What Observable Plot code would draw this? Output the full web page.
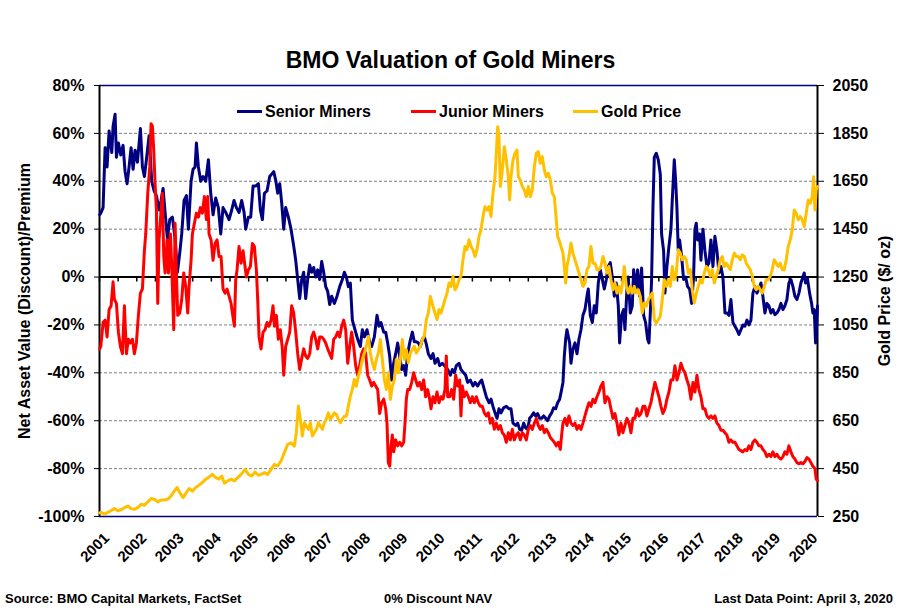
<!DOCTYPE html>
<html><head><meta charset="utf-8">
<script src="https://cdn.jsdelivr.net/npm/d3@7"></script>
<script src="https://cdn.jsdelivr.net/npm/@observablehq/plot@0.6"></script>
<style>
body{margin:0;background:#fff;font-family:"Liberation Sans",Arial,sans-serif;color:#000;}
#wrap{position:relative;width:901px;height:613px;overflow:hidden;background:#fff;}
#title{height:70px;box-sizing:border-box;padding-top:47px;text-align:center;font-weight:bold;font-size:23px;line-height:26px;}
#legend{position:absolute;top:103px;left:0;width:901px;height:20px;font-weight:bold;font-size:16px;}
.lg{position:absolute;top:0;line-height:18px;white-space:nowrap;}
.sw{display:inline-block;width:25px;height:3px;vertical-align:middle;margin-right:3px;position:relative;top:-1px;}
#footer{position:relative;height:39px;font-weight:bold;font-size:13px;}
#footer span{position:absolute;top:17px;white-space:nowrap;}
#chart svg{display:block;}
</style></head>
<body>
<div id="wrap">
  <div id="title">BMO Valuation of Gold Miners</div>
  <div id="chart"></div>
  <div id="footer">
    <span style="left:5px">Source: BMO Capital Markets, FactSet</span>
    <span style="left:438px;transform:translateX(-50%)">0% Discount NAV</span>
    <span style="right:8px">Last Data Point: April 3, 2020</span>
  </div>
  <div id="legend"></div>
</div>
<script>
// ---- data: [decimal year, value] ----
const seriesNames = ["Senior Miners", "Junior Miners", "Gold Price"];
const seriesColors = ["#000080", "#ff0000", "#ffc000"];

// Senior miners, premium/discount to NAV (%)
const senior = [
[2001.005,26],[2001.034,26.7],[2001.096,29],[2001.150,54],[2001.203,46],[2001.257,61],[2001.329,52],[2001.364,63],[2001.418,68],[2001.454,50],[2001.507,56],[2001.570,51],[2001.632,55],[2001.686,44],[2001.740,39],[2001.793,46],[2001.847,54],[2001.901,45],[2001.954,53],[2002.017,48],[2002.097,62],[2002.151,46],[2002.204,42],[2002.258,49],[2002.330,59],[2002.401,40],[2002.464,36],[2002.526,34],[2002.598,28],[2002.651,32],[2002.705,37],[2002.759,27],[2002.821,16],[2002.884,24],[2002.955,25],[2003.027,16],[2003.089,2],[2003.152,10],[2003.205,18],[2003.268,32],[2003.331,34],[2003.384,20],[2003.456,40],[2003.509,45],[2003.563,46],[2003.599,56],[2003.652,46],[2003.715,40],[2003.777,42],[2003.849,40],[2003.920,49],[2003.983,35],[2004.046,26],[2004.117,33],[2004.188,29],[2004.251,18],[2004.313,29],[2004.385,27],[2004.474,24],[2004.546,28],[2004.608,32],[2004.671,29],[2004.743,27],[2004.814,32],[2004.877,27],[2004.921,20],[2004.993,25],[2005.055,25],[2005.118,38],[2005.189,38],
[2005.261,39],[2005.314,28],[2005.368,24],[2005.422,35],[2005.493,36],[2005.565,42],[2005.618,43],[2005.672,44],[2005.725,40.5],[2005.779,35],[2005.833,39],[2005.886,31],[2005.940,20],[2005.993,29],[2006.065,25],[2006.137,20],[2006.208,13],[2006.262,7],[2006.315,-1],[2006.369,-9],[2006.423,-1],[2006.476,2],[2006.530,-9],[2006.583,-1],[2006.637,5],[2006.691,2],[2006.744,4],[2006.798,0],[2006.851,3],[2006.905,-1],[2006.959,6.5],[2007.012,2],[2007.066,-4],[2007.120,-6],[2007.173,-11.5],[2007.227,-8],[2007.298,-11],[2007.370,-8],[2007.441,-4],[2007.513,-1],[2007.567,2],[2007.620,0],[2007.674,-4],[2007.727,-2.5],[2007.781,-18],[2007.852,-22],[2007.924,-26],[2007.995,-29],[2008.049,-22],[2008.103,-25],[2008.174,-22],[2008.246,-27.5],[2008.299,-29],[2008.371,-25],[2008.442,-16],[2008.496,-20.5],[2008.550,-19],[2008.621,-23],[2008.675,-23],[2008.728,-27.5],[2008.782,-33],[2008.835,-43],[2008.889,-36],[2008.943,-32],[2008.996,-27.5],[2009.050,-33],[2009.104,-38.6],[2009.157,-37],[2009.211,-41],[2009.264,-32],[2009.318,-27.5],[2009.390,-23],[2009.443,-27],[2009.497,-27],[2009.551,-27.5],[2009.604,-29],[2009.658,-26],[2009.711,-25],[2009.765,-28],[2009.818,-32],[2009.890,-34],
[2009.944,-32],[2009.997,-36],[2010.069,-34],[2010.122,-37],[2010.194,-36],[2010.248,-37],[2010.337,-38.6],[2010.409,-41],[2010.462,-38.6],[2010.516,-40],[2010.569,-37],[2010.641,-36],[2010.694,-38.6],[2010.766,-40],[2010.820,-41],[2010.873,-44],[2010.945,-43],[2011.016,-45.5],[2011.070,-44],[2011.141,-45.5],[2011.195,-44],[2011.249,-43],[2011.320,-47],[2011.374,-50],[2011.445,-52.5],[2011.499,-51],[2011.552,-54],[2011.606,-56.7],[2011.660,-59],[2011.713,-55],[2011.767,-56.7],[2011.838,-54.6],[2011.910,-54],[2011.981,-55],[2012.035,-55],[2012.089,-61],[2012.160,-62],[2012.214,-61],[2012.267,-63.6],[2012.321,-64],[2012.375,-61],[2012.428,-63],[2012.482,-63.6],[2012.535,-59],[2012.589,-58],[2012.643,-56.7],[2012.696,-58],[2012.750,-57],[2012.804,-59],[2012.857,-59],[2012.911,-58],[2012.964,-59],[2013.018,-60],[2013.072,-58],[2013.125,-56.7],[2013.179,-54.6],[2013.233,-55],[2013.286,-52.5],[2013.340,-51],[2013.393,-47],[2013.429,-44],[2013.465,-33],[2013.501,-26],[2013.536,-22],[2013.572,-24.7],[2013.608,-27.5],[2013.644,-36],[2013.697,-30],[2013.751,-27.5],[2013.805,-32],[2013.858,-26],[2013.912,-22],[2013.965,-16],[2014.019,-13.6],[2014.073,-8],[2014.108,-5],[2014.162,-16],[2014.216,-19],[2014.269,-12],[2014.323,-15],[2014.376,-2.5],[2014.430,3],[2014.484,-1],[2014.537,-5],[2014.591,-1],[2014.645,4.4],[2014.698,6],
[2014.761,-1],[2014.805,-8],[2014.859,-2.5],[2014.913,-12],[2014.948,-27.5],[2015.002,-16],[2015.056,-13.6],[2015.091,-22],[2015.145,-5],[2015.181,0],[2015.234,-15],[2015.288,-12],[2015.324,3],[2015.377,-5],[2015.431,3],[2015.485,-8],[2015.538,3.75],[2015.592,-16],[2015.645,-19],[2015.699,-26],[2015.735,-27.5],[2015.771,-15],[2015.806,-1],[2015.842,29],[2015.878,50],[2015.931,51.7],[2015.985,49],[2016.039,43],[2016.074,18],[2016.128,11],[2016.164,-6.7],[2016.217,4.4],[2016.271,12.8],[2016.325,20],[2016.360,32],[2016.414,49],[2016.450,40.5],[2016.485,29],[2016.521,11],[2016.557,15.5],[2016.611,8.6],[2016.664,-1],[2016.718,0],[2016.772,-4],[2016.825,-5],[2016.879,-11],[2016.932,0],[2016.968,20],[2017.004,22.5],[2017.040,15.5],[2017.093,18],[2017.129,7],[2017.183,20],[2017.236,11],[2017.290,4.4],[2017.344,6],[2017.397,15.5],[2017.451,4.4],[2017.504,17],[2017.558,11],[2017.612,1.7],[2017.665,4.4],[2017.719,0],[2017.773,-15],[2017.826,-15],[2017.880,-16],[2017.933,-9.4],[2017.987,-19],[2018.041,-20.5],[2018.094,-22],[2018.148,-24],[2018.201,-22],[2018.255,-20],[2018.309,-20.5],[2018.362,-18],[2018.416,-20],[2018.470,-18],[2018.523,-6.7],[2018.577,-4],[2018.630,-6.7],[2018.684,-5],[2018.738,-2.5],[2018.791,-8],[2018.845,-15],[2018.898,-11],[2018.952,-12],[2019.006,-15],[2019.059,-13.6],[2019.113,-15.7],[2019.167,-15],[2019.220,-13.6],[2019.274,-11],[2019.328,-13.6],[2019.381,-12],[2019.435,-9.4],[2019.488,-2.5],[2019.542,-1],[2019.596,-4],[2019.649,-8],[2019.703,-9.4],[2019.757,-6.7],[2019.810,-2.5],[2019.864,0],[2019.899,1.7],[2019.935,-2.5],[2019.989,-1],[2020.043,-6.7],[2020.096,-11],[2020.132,-15],[2020.168,-13.6],[2020.203,-27.5],[2020.239,-18],[2020.255,-12]
];

// Junior miners, premium/discount to NAV (%)
const junior = [
[2001.005,-30],[2001.034,-29],[2001.096,-19],[2001.150,-18],[2001.203,-25],[2001.257,-13.6],[2001.311,-12],[2001.364,-2],[2001.400,-9.4],[2001.454,-11],[2001.507,-23],[2001.561,-29],[2001.615,-32],[2001.668,-12],[2001.722,-32],[2001.775,-26],[2001.829,-27.5],[2001.883,-26],[2001.936,-32],[2001.990,-27.5],[2002.043,-16],[2002.097,-6.7],[2002.151,-5],[2002.204,11],[2002.240,18],[2002.294,35],[2002.347,46],[2002.383,64],[2002.419,63],[2002.455,53],[2002.490,39],[2002.526,28],[2002.562,-11],[2002.598,15.5],[2002.651,28],[2002.687,35],[2002.723,8.6],[2002.759,1.7],[2002.812,15.5],[2002.848,1.7],[2002.902,18],[2002.937,4.4],[2002.991,-22],[2003.027,22.5],[2003.062,1.7],[2003.098,-16],[2003.152,-15],[2003.205,-9.4],[2003.259,1.7],[2003.313,-4],[2003.366,-15],[2003.402,-4],[2003.456,7],[2003.491,18],[2003.545,22.5],[2003.599,26.7],[2003.652,25],[2003.706,29],[2003.759,26.7],[2003.813,33.6],[2003.867,24],[2003.902,33.6],[2003.938,18],[2003.992,15.5],[2004.045,7],[2004.099,14],[2004.153,15.5],[2004.206,8.6],[2004.260,8.6],[2004.313,-5],[2004.367,-6.7],[2004.421,-5],[2004.474,-8],[2004.528,-11],[2004.564,-15],[2004.617,-20.5],[2004.653,-1],[2004.689,3],[2004.742,12.8],[2004.796,5.8],[2004.850,11],[2004.903,4.4],[2004.939,0],[2004.993,3],[2005.046,4.4],[2005.100,14],
[2005.153,12.8],[2005.207,3],[2005.243,-9.4],[2005.279,-25],[2005.332,-30],[2005.386,-23],[2005.439,-22],[2005.493,-19],[2005.547,-20.5],[2005.600,-18],[2005.654,-12],[2005.690,-20.5],[2005.743,-16],[2005.797,-26],[2005.851,-22],[2005.904,-30],[2005.940,-41],[2005.993,-29],[2006.047,-26],[2006.101,-23],[2006.154,-12],[2006.208,-15],[2006.262,-23],[2006.315,-32],[2006.369,-38.6],[2006.423,-34],[2006.476,-30],[2006.530,-33],[2006.583,-34],[2006.637,-32],[2006.691,-25],[2006.744,-23],[2006.798,-26],[2006.851,-30],[2006.905,-25],[2006.959,-25],[2007.012,-26],[2007.066,-27.5],[2007.120,-30],[2007.173,-32],[2007.227,-34],[2007.280,-26],[2007.334,-25],[2007.388,-23],[2007.441,-25],[2007.495,-20.5],[2007.548,-18],[2007.602,-22],[2007.656,-36],[2007.709,-29],[2007.763,-23],[2007.817,-29],[2007.870,-37],[2007.924,-41],[2007.977,-37],[2008.031,-32],[2008.085,-30],[2008.138,-32],[2008.192,-41],[2008.246,-43],[2008.299,-45.5],[2008.353,-44],[2008.406,-45.5],[2008.460,-47],[2008.514,-57],[2008.567,-52.5],[2008.621,-51],[2008.675,-55],[2008.710,-61],[2008.746,-77.5],[2008.782,-79],[2008.818,-70.5],[2008.853,-66],[2008.889,-73],[2008.943,-68],[2008.996,-70.5],[2009.050,-69],[2009.104,-70.5],[2009.157,-69],[2009.193,-61],[2009.229,-51],[2009.264,-47],[2009.318,-47],[2009.372,-44],[2009.425,-40],[2009.479,-43],[2009.533,-45.5],[2009.586,-44],[2009.640,-47],[2009.693,-43],[2009.747,-50],[2009.801,-47],[2009.854,-51],[2009.890,-55],
[2009.944,-50],[2009.997,-52.5],[2010.051,-48],[2010.105,-52.5],[2010.158,-50],[2010.212,-51],[2010.265,-47],[2010.301,-33],[2010.337,-50],[2010.391,-50],[2010.444,-47],[2010.498,-51],[2010.551,-41],[2010.605,-45.5],[2010.659,-43],[2010.694,-58],[2010.730,-45.5],[2010.784,-50],[2010.837,-48],[2010.891,-50],[2010.945,-52.5],[2010.998,-50],[2011.052,-52.5],[2011.106,-50],[2011.159,-52.5],[2011.213,-54],[2011.266,-54],[2011.320,-56.7],[2011.374,-58],[2011.427,-56.7],[2011.481,-61],[2011.535,-59],[2011.588,-63.6],[2011.642,-61],[2011.695,-63.6],[2011.749,-62],[2011.803,-65],[2011.856,-66],[2011.910,-69],[2011.964,-65],[2012.017,-68],[2012.071,-63.6],[2012.124,-68],[2012.178,-66],[2012.232,-65],[2012.285,-68],[2012.339,-65],[2012.392,-66],[2012.446,-68],[2012.500,-63.6],[2012.553,-62],[2012.607,-63.6],[2012.661,-61],[2012.714,-59],[2012.768,-62],[2012.821,-63.6],[2012.875,-62],[2012.929,-65],[2012.982,-63.6],[2013.036,-65],[2013.090,-67],[2013.143,-68],[2013.197,-69],[2013.250,-70.5],[2013.304,-69],[2013.358,-72],[2013.393,-66],[2013.429,-61],[2013.483,-59],[2013.536,-62],[2013.590,-58],[2013.644,-61],[2013.697,-62],[2013.751,-61],[2013.805,-63.6],[2013.858,-62],[2013.912,-63.6],[2013.965,-61],[2014.019,-58],[2014.073,-55],[2014.126,-52.5],[2014.180,-54],[2014.233,-51],[2014.287,-52.5],[2014.341,-50],[2014.394,-48],[2014.448,-45.5],[2014.502,-44],[2014.555,-52.5],[2014.609,-50],[2014.662,-51],[2014.716,-55],
[2014.770,-59],[2014.823,-57],[2014.877,-61],[2014.930,-66],[2014.984,-61],[2015.038,-65],[2015.091,-62],[2015.145,-59],[2015.199,-61],[2015.252,-65],[2015.306,-59],[2015.359,-59],[2015.413,-55],[2015.467,-58],[2015.520,-57],[2015.574,-54],[2015.628,-54],[2015.681,-58],[2015.735,-55],[2015.788,-52.5],[2015.842,-48],[2015.896,-44],[2015.949,-47],[2016.003,-50],[2016.057,-54],[2016.110,-57],[2016.164,-55],[2016.217,-51],[2016.271,-48],[2016.325,-43],[2016.378,-43],[2016.432,-37],[2016.486,-43],[2016.539,-40],[2016.593,-36],[2016.646,-38.5],[2016.700,-40],[2016.754,-43],[2016.807,-45.5],[2016.861,-51],[2016.915,-44],[2016.968,-48],[2017.022,-41],[2017.075,-47],[2017.129,-50],[2017.183,-55],[2017.236,-55],[2017.290,-58],[2017.344,-59],[2017.397,-58],[2017.451,-59],[2017.504,-58],[2017.558,-61],[2017.612,-62],[2017.665,-64],[2017.719,-64],[2017.773,-65],[2017.826,-66],[2017.880,-69],[2017.933,-68],[2017.987,-69],[2018.041,-69],[2018.094,-70.5],[2018.148,-72],[2018.201,-72.5],[2018.255,-73],[2018.309,-72],[2018.362,-72.5],[2018.416,-70.5],[2018.470,-72],[2018.523,-69],[2018.577,-68],[2018.630,-69],[2018.684,-70.5],[2018.738,-70.5],[2018.791,-72],[2018.845,-73],[2018.898,-75],[2018.952,-74],[2019.006,-75],[2019.059,-73],[2019.113,-75],[2019.167,-74],[2019.220,-75.4],[2019.274,-76],[2019.328,-75],[2019.381,-73],[2019.435,-74],[2019.488,-70.5],[2019.542,-73],[2019.596,-75],[2019.649,-76],[2019.703,-77.5],[2019.757,-78],[2019.810,-77.5],[2019.864,-78],[2019.917,-77],[2019.971,-75.4],[2020.024,-76],[2020.078,-77.5],[2020.132,-79],[2020.185,-80],[2020.221,-84.4],[2020.255,-85]
];

// Gold price (US$/oz)
const gold = [
[2001.005,265],[2001.043,267],[2001.132,260],[2001.222,267],[2001.311,274],[2001.401,283],[2001.490,274],[2001.579,278],[2001.669,287],[2001.758,294],[2001.847,283],[2001.937,280],[2002.026,287],[2002.116,301],[2002.205,297],[2002.294,311],[2002.384,325],[2002.473,322],[2002.562,311],[2002.652,319],[2002.741,319],[2002.831,322],[2002.920,336],[2003.009,357],[2003.081,371],[2003.152,350],[2003.242,329],[2003.331,350],[2003.403,367],[2003.492,356],[2003.581,371],[2003.671,381],[2003.760,392],[2003.849,406],[2003.939,415],[2004.028,426],[2004.117,412],[2004.207,406],[2004.278,419],[2004.350,389],[2004.439,399],[2004.529,406],[2004.618,399],[2004.707,412],[2004.797,426],[2004.904,447],[2004.993,426],[2005.083,419],[2005.172,436],[2005.261,422],
[2005.332,426],[2005.422,433],[2005.511,426],[2005.600,447],[2005.690,468],[2005.779,461],[2005.868,482],[2005.958,517],[2006.047,551],[2006.136,558],[2006.226,544],[2006.279,600],[2006.333,711],[2006.387,656],[2006.440,586],[2006.494,642],[2006.547,628],[2006.601,614],[2006.655,642],[2006.708,586],[2006.762,600],[2006.816,614],[2006.869,642],[2006.923,628],[2006.977,614],[2007.030,642],[2007.084,656],[2007.137,683],[2007.191,656],[2007.245,669],[2007.298,683],[2007.352,676],[2007.405,656],[2007.459,642],[2007.513,656],[2007.566,669],[2007.620,669],[2007.674,711],[2007.727,753],[2007.781,781],[2007.834,822],[2007.888,794],[2007.942,836],[2007.995,864],[2008.049,906],[2008.103,933],[2008.156,961],[2008.210,1003],[2008.263,933],[2008.317,892],[2008.371,864],[2008.424,906],[2008.478,933],[2008.532,989],[2008.585,906],[2008.639,822],[2008.693,781],[2008.746,850],[2008.800,739],[2008.853,794],[2008.907,822],[2008.961,906],[2009.014,850],[2009.068,906],[2009.121,989],[2009.175,906],[2009.228,947],[2009.282,892],[2009.336,933],[2009.389,947],[2009.443,961],[2009.497,933],[2009.550,947],[2009.604,961],[2009.658,989],[2009.711,1003],[2009.765,1072],[2009.818,1100],[2009.872,1169],
[2009.944,1128],[2009.997,1100],[2010.051,1072],[2010.105,1114],[2010.158,1100],[2010.212,1128],[2010.265,1156],[2010.319,1183],[2010.373,1225],[2010.426,1211],[2010.480,1253],[2010.534,1197],[2010.587,1211],[2010.641,1239],[2010.694,1253],[2010.748,1322],[2010.802,1378],[2010.855,1364],[2010.909,1406],[2010.963,1378],[2011.016,1364],[2011.070,1336],[2011.123,1364],[2011.177,1419],[2011.231,1447],[2011.284,1503],[2011.338,1544],[2011.392,1530],[2011.445,1544],[2011.499,1503],[2011.552,1600],[2011.606,1669],[2011.642,1767],[2011.678,1878],[2011.713,1836],[2011.749,1628],[2011.803,1697],[2011.856,1794],[2011.910,1739],[2011.964,1669],[2011.999,1572],[2012.035,1669],[2012.089,1739],[2012.142,1767],[2012.196,1780],[2012.232,1669],[2012.285,1655],[2012.339,1628],[2012.392,1614],[2012.446,1586],[2012.500,1628],[2012.553,1586],[2012.607,1614],[2012.661,1711],[2012.714,1767],[2012.768,1774],[2012.821,1725],[2012.875,1753],[2012.929,1697],[2012.982,1669],[2013.036,1683],[2013.090,1655],[2013.143,1600],[2013.197,1586],[2013.250,1489],[2013.286,1419],[2013.322,1406],[2013.375,1378],[2013.429,1350],[2013.465,1294],[2013.501,1225],[2013.536,1294],[2013.590,1336],[2013.644,1392],[2013.697,1350],[2013.751,1322],[2013.805,1294],[2013.858,1267],[2013.912,1239],[2013.965,1211],[2014.019,1225],[2014.073,1281],[2014.126,1294],[2014.180,1378],[2014.233,1308],[2014.287,1308],[2014.341,1281],[2014.394,1281],[2014.448,1294],[2014.502,1336],[2014.555,1308],[2014.609,1267],[2014.662,1294],[2014.716,1239],
[2014.770,1197],[2014.823,1225],[2014.877,1183],[2014.930,1211],[2014.984,1183],[2015.038,1239],[2015.073,1294],[2015.127,1211],[2015.181,1183],[2015.234,1211],[2015.288,1183],[2015.342,1211],[2015.395,1183],[2015.449,1197],[2015.502,1169],[2015.556,1100],[2015.610,1142],[2015.663,1128],[2015.717,1156],[2015.771,1169],[2015.824,1183],[2015.878,1072],[2015.931,1058],[2015.985,1072],[2016.039,1086],[2016.092,1156],[2016.146,1239],[2016.200,1211],[2016.253,1239],[2016.307,1211],[2016.360,1294],[2016.414,1239],[2016.468,1267],[2016.521,1364],[2016.575,1350],[2016.628,1322],[2016.682,1336],[2016.736,1322],[2016.789,1267],[2016.843,1281],[2016.897,1197],[2016.950,1142],[2017.004,1183],[2017.058,1211],[2017.111,1239],[2017.165,1225],[2017.218,1267],[2017.272,1294],[2017.326,1281],[2017.379,1253],[2017.433,1281],[2017.487,1225],[2017.540,1253],[2017.594,1281],[2017.647,1322],[2017.701,1336],[2017.755,1294],[2017.808,1308],[2017.862,1294],[2017.916,1281],[2017.969,1322],[2018.023,1350],[2018.076,1336],[2018.130,1336],[2018.184,1322],[2018.237,1343],[2018.291,1336],[2018.344,1308],[2018.398,1294],[2018.452,1281],[2018.505,1253],[2018.559,1211],[2018.613,1197],[2018.666,1211],[2018.720,1197],[2018.773,1183],[2018.827,1211],[2018.881,1239],[2018.934,1239],[2018.988,1253],[2019.041,1281],[2019.095,1322],[2019.149,1308],[2019.202,1294],[2019.256,1308],[2019.309,1281],[2019.363,1281],[2019.417,1322],[2019.470,1378],[2019.524,1406],[2019.578,1447],[2019.631,1530],[2019.685,1517],[2019.738,1489],[2019.792,1503],[2019.846,1489],[2019.899,1461],[2019.953,1517],[2020.007,1572],[2020.060,1558],[2020.114,1586],[2020.150,1669],[2020.185,1530],[2020.221,1614],[2020.255,1628]
];

// ---- axes ----
const xDomain = [2001, 2020.255];
const yTicks = d3.range(-100, 81, 20);            // left axis, %
const years = d3.range(2001, 2021);               // year labels
const halfYears = d3.range(2001, 2020.3, 0.5);    // small ticks on 0 line
const goldToPct = g => (g - 1250) / 10;           // right axis 250..2050 -> -100..80
const pctToGold = p => p * 10 + 1250;

const FONT = '"Liberation Sans", Arial, sans-serif';

const chart = Plot.plot({
  width: 901,
  height: 504,
  marginTop: 15,
  marginBottom: 58,
  marginLeft: 99,
  marginRight: 84,
  x: {domain: xDomain, axis: null},
  y: {domain: [-100, 80], axis: null},
  style: {fontFamily: FONT, fontWeight: "bold", fontSize: "16px", color: "black", background: "white", overflow: "visible"},
  marks: [
    Plot.ruleY(yTicks.filter(d => d !== 0 && d !== 80 && d !== -100), {stroke: "#7f7f7f", strokeDasharray: "3,2", strokeWidth: 1}),
    Plot.ruleY([80, -100], {stroke: "#000080", strokeWidth: 1.3}),
    Plot.ruleY([0], {stroke: "black", strokeWidth: 2}),
    Plot.ruleX(halfYears, {x: d => d, y1: 0, y2: 0, insetBottom: -5, stroke: "black", strokeWidth: 1.5}),
    Plot.ruleX(xDomain, {stroke: "black", strokeWidth: 2}),
    Plot.axisY(yTicks, {anchor: "left", tickSize: 5, tickPadding: 10, tickFormat: d => d + "%", fontSize: 16, fontWeight: "bold", label: null, stroke: "black"}),
    Plot.axisY(yTicks, {anchor: "right", tickSize: 6, tickPadding: 9, tickFormat: d => String(pctToGold(d)), fontSize: 16, fontWeight: "bold", label: null, stroke: "black"}),
    Plot.text(years, {x: d => d, frameAnchor: "bottom", text: d => String(d), rotate: -45, textAnchor: "end", lineAnchor: "top", dx: 3, dy: 15, fontSize: 15, fontWeight: "bold", fill: "black"}),
    Plot.text(["Net Asset Value (Discount)/Premium"], {frameAnchor: "left", rotate: -90, textAnchor: "middle", lineAnchor: "middle", dx: -75, fontSize: 16, fontWeight: "bold", fill: "black"}),
    Plot.text(["Gold Price ($/ oz)"], {frameAnchor: "right", rotate: -90, textAnchor: "middle", lineAnchor: "middle", dx: 67, fontSize: 16, fontWeight: "bold", fill: "black"}),
    Plot.line(senior, {x: d => d[0], y: d => d[1], stroke: seriesColors[0], strokeWidth: 3, strokeLinejoin: "round"}),
    Plot.line(junior, {x: d => d[0], y: d => d[1], stroke: seriesColors[1], strokeWidth: 3, strokeLinejoin: "round"}),
    Plot.line(gold, {x: d => d[0], y: d => goldToPct(d[1]), stroke: seriesColors[2], strokeWidth: 3, strokeLinejoin: "round"})
  ]
});
document.getElementById("chart").appendChild(chart);

// legend (inside plot area, top)
const legendLeft = [237, 411, 573];
const legend = document.getElementById("legend");
seriesNames.forEach((name, i) => {
  const item = document.createElement("div");
  item.className = "lg";
  item.style.left = legendLeft[i] + "px";
  const sw = document.createElement("span");
  sw.className = "sw";
  sw.style.background = seriesColors[i];
  item.appendChild(sw);
  item.appendChild(document.createTextNode(name));
  legend.appendChild(item);
});
</script>
</body></html>
